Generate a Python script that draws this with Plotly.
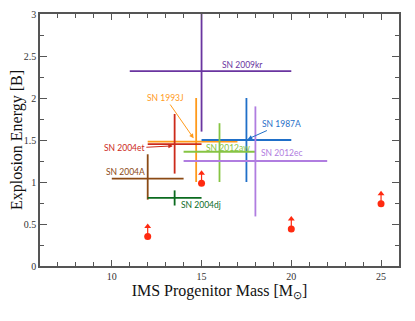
import plotly.graph_objects as go

# supernova progenitor mass / explosion energy estimates
names = ["SN 2009kr", "SN 1993J", "SN 2004et", "SN 1987A", "SN 2012aw", "SN 2012ec", "SN 2004A", "SN 2004dj"]
colors = ["#6a35a0", "#ff9a1a", "#cc2a1a", "#1f6fc8", "#86c443", "#b07de0", "#8b4a14", "#0b6b1f"]
mass = [15.0, 14.7, 13.5, 17.5, 16.0, 18.0, 12.0, 13.5]
mass_lo = [11.0, 12.0, 12.0, 15.0, 14.0, 14.0, 10.0, 12.0]
mass_hi = [20.0, 17.0, 15.0, 20.0, 18.0, 22.0, 14.0, 15.0]
energy = [2.32, 1.48, 1.45, 1.50, 1.36, 1.25, 1.04, 0.81]
energy_lo = [1.60, 1.00, 1.10, 1.00, 1.00, 0.59, 0.79, 0.72]
energy_hi = [3.20, 2.00, 1.81, 2.00, 1.70, 1.90, 1.33, 0.90]

# label positions (data coords)
label_x = [16.0, 13.0, 10.7, 19.45, 15.15, 18.2, 9.55, 13.75]
label_y = [2.39, 2.00, 1.40, 1.69, 1.41, 1.34, 1.115, 0.73]
arrow_to_x = [None, 14.56, 13.4, 17.57, None, None, None, None]
arrow_to_y = [None, 1.52, 1.43, 1.51, None, None, None, None]

# lower limits from models
lim_mass = [12, 15, 20, 25]
lim_energy = [0.35, 0.985, 0.44, 0.74]
lim_len = 0.12

fig = go.Figure()

for i, n in enumerate(names):
    fig.add_trace(go.Scatter(
        x=[mass[i]], y=[energy[i]], mode="markers",
        marker=dict(size=1, color=colors[i], opacity=0),
        error_x=dict(type="data", symmetric=False, array=[mass_hi[i] - mass[i]],
                     arrayminus=[mass[i] - mass_lo[i]], width=0, thickness=1.8, color=colors[i]),
        error_y=dict(type="data", symmetric=False, array=[energy_hi[i] - energy[i]],
                     arrayminus=[energy[i] - energy_lo[i]], width=0, thickness=1.8, color=colors[i]),
        showlegend=False, hoverinfo="skip"))
    if arrow_to_x[i] is None:
        fig.add_annotation(x=label_x[i], y=label_y[i], text=n, showarrow=False,
                           xanchor="left", font=dict(family="Lato", size=8.5, color=colors[i]))
    else:
        fig.add_annotation(x=arrow_to_x[i], y=arrow_to_y[i], ax=label_x[i], ay=label_y[i],
                           axref="x", ayref="y", text=n, showarrow=True, arrowhead=2,
                           arrowsize=0.9, arrowwidth=1, arrowcolor=colors[i],
                           font=dict(family="Lato", size=8.5, color=colors[i]))

# lower-limit arrows: shaft, head and point
shaft_x, shaft_y = [], []
for m, e in zip(lim_mass, lim_energy):
    shaft_x += [m, m, None]
    shaft_y += [e, e + lim_len, None]
fig.add_trace(go.Scatter(x=shaft_x, y=shaft_y, mode="lines",
                         line=dict(color="#ff2a10", width=1.2), showlegend=False))
fig.add_trace(go.Scatter(x=lim_mass, y=[e + lim_len for e in lim_energy], mode="markers",
                         marker=dict(symbol="triangle-up", size=6, color="#ff2a10"),
                         showlegend=False))
fig.add_trace(go.Scatter(x=lim_mass, y=lim_energy, mode="markers",
                         marker=dict(size=7, color="#ff2a10"), showlegend=False))

axis_common = dict(showline=True, linecolor="#555", linewidth=1.5, mirror="ticks",
                   ticks="inside", tickcolor="#555", showgrid=False, zeroline=False,
                   automargin=False,
                   tickfont=dict(family="Liberation Serif", size=10, color="#333"))

fig.update_xaxes(range=[6, 26], dtick=5, tick0=0, ticklen=6,
                 minor=dict(dtick=1, ticks="inside", ticklen=4, tickcolor="#555"),
                 title=dict(text="IMS Progenitor Mass [M<sub>⊙</sub>]", standoff=4,
                            font=dict(family="Liberation Serif", size=16, color="#111")),
                 **axis_common)
fig.update_yaxes(range=[0, 3], dtick=0.5, ticklen=7,
                 minor=dict(dtick=0.25, ticks="inside", ticklen=4, tickcolor="#555"),
                 title=dict(text="Explosion Energy [B]", standoff=2,
                            font=dict(family="Liberation Serif", size=16, color="#111")),
                 **axis_common)

# page has an 8px body margin, so the figure is a bit smaller than the window
fig.update_layout(width=407, height=313, margin=dict(l=32, r=16, t=6, b=55),
                  plot_bgcolor="white", paper_bgcolor="white")

fig.write_html("out.html")
